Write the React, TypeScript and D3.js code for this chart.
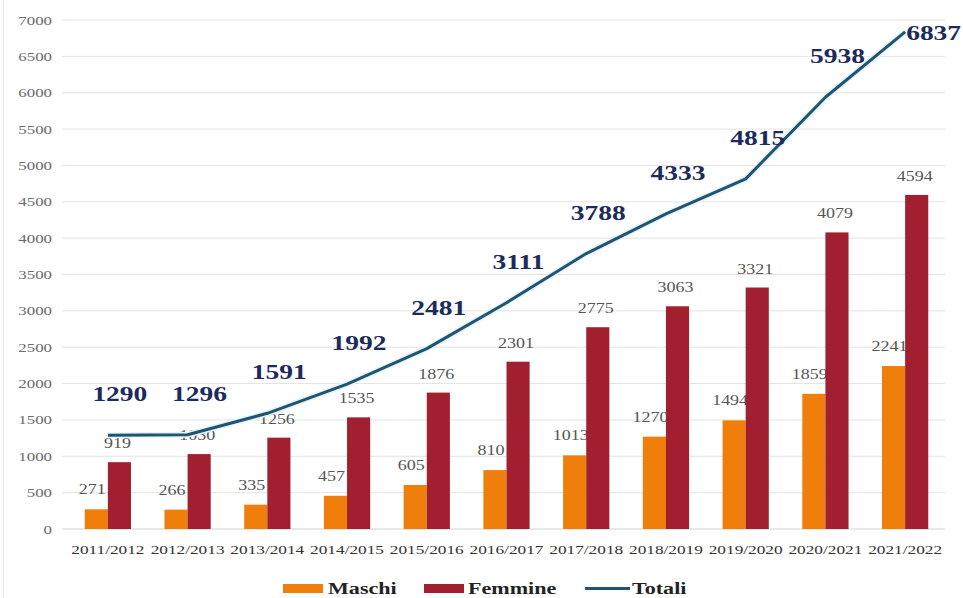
import React from "react";
import * as d3 from "d3";

const categories = ["2011/2012","2012/2013","2013/2014","2014/2015","2015/2016","2016/2017","2017/2018","2018/2019","2019/2020","2020/2021","2021/2022"];
const maschi = [271, 266, 335, 457, 605, 810, 1013, 1270, 1494, 1859, 2241];
const femmine = [919, 1030, 1256, 1535, 1876, 2301, 2775, 3063, 3321, 4079, 4594];
const totali = [1290, 1296, 1591, 1992, 2481, 3111, 3788, 4333, 4815, 5938, 6837];
const yTicks = [0,500,1000,1500,2000,2500,3000,3500,4000,4500,5000,5500,6000,6500,7000];
const seriesNames = ["Maschi", "Femmine", "Totali"];

const W = 963, H = 598;
const ORANGE = "#F07E0A";
const RED = "#A21F30";
const LINE = "#1E5573";
const NAVY = "#1C2B5C";
const SERIF = "'Liberation Serif', 'DejaVu Serif', serif";

function SText({ x, y, sx = 1.25, anchor = "middle", children, ...rest }: any) {
  return (
    <text transform={`translate(${x},${y}) scale(${sx},1)`} textAnchor={anchor} fontFamily={SERIF} {...rest}>
      {children}
    </text>
  );
}

export default function App() {
  const y = d3.scaleLinear().domain([0, 7000]).range([529, 20]);
  const x = d3.scaleBand<string>().domain(categories).range([68, 945]).paddingInner(0.42).paddingOuter(0.21);
  const sub = d3.scaleBand<string>().domain(["m", "f"]).range([0, x.bandwidth()]);
  const cx = (c: string) => (x(c) as number) + x.bandwidth() / 2;
  const line = d3.line<number>().x((_, i) => cx(categories[i])).y((d) => y(d));
  const path = line(totali) || "";

  return (
    <svg width={W} height={H} style={{ position: "absolute", left: 0, top: 0, background: "#fff" }}>
      <line x1={3.5} x2={3.5} y1={0} y2={H} stroke="#e6e6e6" />
      {yTicks.map((t) => (
        <g key={t}>
          <line x1={62} x2={945} y1={y(t)} y2={y(t)} stroke={t === 0 ? "#d0d0d0" : "#e3e3e3"} strokeWidth={1} />
          <SText x={52} y={y(t) + 4.5} anchor="end" sx={1.35} fontSize={12.5} fill="#6b6b6b">{t}</SText>
        </g>
      ))}
      {categories.map((c) => (
        <SText key={c} x={cx(c)} y={554} sx={1.28} fontSize={13.5} fill="#333">{c}</SText>
      ))}
      {/* Maschi bars */}
      {categories.map((c, i) => (
        <rect key={c} x={(x(c) as number) + (sub("m") as number)} y={y(maschi[i])} width={sub.bandwidth()} height={y(0) - y(maschi[i])} fill={ORANGE} />
      ))}
      {categories.map((c, i) => (
        <SText key={c} x={(x(c) as number) + (sub("m") as number) + sub.bandwidth() / 2 - 4} y={y(maschi[i]) - 15} sx={1.2} fontSize={15} fill="#555">{maschi[i]}</SText>
      ))}
      {/* Femmine bars */}
      {categories.map((c, i) => (
        <rect key={c} x={(x(c) as number) + (sub("f") as number)} y={y(femmine[i])} width={sub.bandwidth()} height={y(0) - y(femmine[i])} fill={RED} />
      ))}
      {categories.map((c, i) => (
        <SText key={c} x={(x(c) as number) + (sub("f") as number) + sub.bandwidth() / 2 - 2} y={y(femmine[i]) - 14} sx={1.2} fontSize={15} fill="#555">{femmine[i]}</SText>
      ))}
      {/* Totali line */}
      <path d={path} fill="none" stroke="#e8f3f8" strokeWidth={6} strokeLinejoin="round" />
      <path d={path} fill="none" stroke={LINE} strokeWidth={3} strokeLinejoin="round" />
      {categories.map((c, i) => {
        const last = i === categories.length - 1;
        return (
          <SText key={c} x={last ? cx(c) + 1 : cx(c) + 12} y={last ? y(totali[i]) + 8 : y(totali[i]) - 34} anchor={last ? "start" : "middle"} sx={1.25} fontSize={22} fontWeight="bold" fill={NAVY}>{totali[i]}</SText>
        );
      })}
      {/* Legend */}
      <g>
        <rect x={283} y={584} width={40} height={9} fill={ORANGE} />
        <SText x={328} y={594} anchor="start" sx={1.3} fontSize={17} fontWeight="bold" fill="#222">{seriesNames[0]}</SText>
        <rect x={424} y={584} width={40} height={9} fill={RED} />
        <SText x={468} y={594} anchor="start" sx={1.3} fontSize={17} fontWeight="bold" fill="#222">{seriesNames[1]}</SText>
        <line x1={585} x2={630} y1={588.5} y2={588.5} stroke={LINE} strokeWidth={3} />
        <SText x={632} y={594} anchor="start" sx={1.3} fontSize={17} fontWeight="bold" fill="#222">{seriesNames[2]}</SText>
      </g>
    </svg>
  );
}
